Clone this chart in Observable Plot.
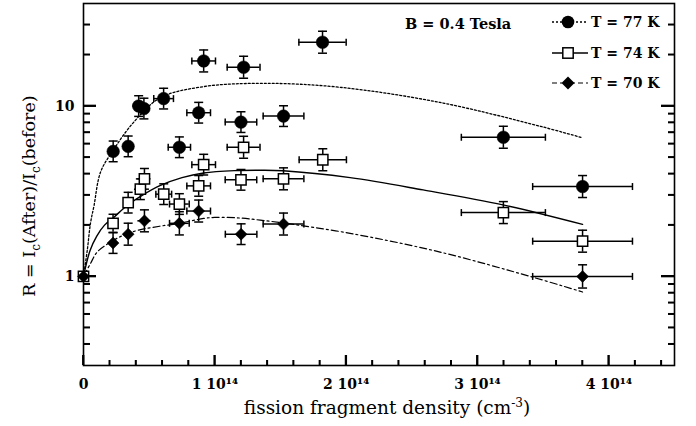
<!DOCTYPE html>
<html>
<head>
<meta charset="utf-8">
<script src="https://cdn.jsdelivr.net/npm/d3@7"></script>
<script src="https://cdn.jsdelivr.net/npm/@observablehq/plot@0.6"></script>
<style>
  body { margin: 0; background: #fff; }
  svg { display: block; }
</style>
</head>
<body>
<div id="chart"></div>
<script>
// ---- Axis ticks (x in units of 10^14 cm^-3) ----
const xTicks = [0, 1, 2, 3, 4];
const xTickLabels = ["0", "1 10¹⁴", "2 10¹⁴", "3 10¹⁴", "4 10¹⁴"];
const xMinorTicks = [0.2, 0.4, 0.6, 0.8, 1.2, 1.4, 1.6, 1.8, 2.2, 2.4, 2.6, 2.8, 3.2, 3.4, 3.6, 3.8, 4.2, 4.4];
const yTicks = [1, 10];
const yTickLabels = ["1", "10"];
const yMinorTicks = [0.4, 0.5, 0.6, 0.7, 0.8, 0.9, 2, 3, 4, 5, 6, 7, 8, 9, 20, 30];

// ---- T = 77 K (filled circles) ----
const t77X    = [0.226, 0.34, 0.42, 0.46, 0.61, 0.73, 0.877, 0.915, 1.199, 1.219, 1.523, 1.82, 3.197, 3.80];
const t77Y    = [5.42, 5.8, 10.0, 9.67, 11.06, 5.73, 9.14, 18.4, 8.05, 16.9, 8.73, 23.7, 6.56, 3.37];
const t77XErr = [0.02, 0.035, 0.045, 0.05, 0.075, 0.085, 0.09, 0.09, 0.12, 0.125, 0.155, 0.18, 0.32, 0.38];
const t77YErr = [0.15, 0.15, 0.15, 0.15, 0.15, 0.15, 0.15, 0.16, 0.15, 0.16, 0.15, 0.16, 0.16, 0.16];

// ---- T = 74 K (open squares) ----
const t74X    = [0, 0.225, 0.34, 0.433, 0.464, 0.611, 0.73, 0.877, 0.915, 1.199, 1.219, 1.523, 1.822, 3.197, 3.80];
const t74Y    = [1, 2.05, 2.71, 3.25, 3.74, 3.04, 2.66, 3.40, 4.53, 3.69, 5.73, 3.74, 4.84, 2.37, 1.61];
const t74XErr = [0, 0.02, 0.035, 0.045, 0.05, 0.06, 0.075, 0.09, 0.09, 0.12, 0.125, 0.155, 0.18, 0.32, 0.38];
const t74YErr = [0, 0.13, 0.15, 0.15, 0.15, 0.15, 0.15, 0.15, 0.15, 0.15, 0.16, 0.16, 0.16, 0.16, 0.16];

// ---- T = 70 K (filled diamonds) ----
const t70X    = [0, 0.225, 0.34, 0.464, 0.73, 0.877, 1.20, 1.523, 3.80];
const t70Y    = [1, 1.57, 1.77, 2.12, 2.05, 2.42, 1.77, 2.03, 1.0];
const t70XErr = [0, 0.02, 0.035, 0.05, 0.075, 0.09, 0.12, 0.155, 0.38];
const t70YErr = [0, 0.15, 0.16, 0.16, 0.17, 0.16, 0.15, 0.16, 0.17];

// ---- Fitted curves ----
const fit77X = [0, 0.03, 0.053, 0.08, 0.13, 0.226, 0.38, 0.586, 0.913, 1.37, 1.95, 2.715, 3.475, 3.80];
const fit77Y = [1, 1.45, 2.05, 2.6, 4.1, 5.5, 8.0, 11.2, 13.0, 13.6, 12.9, 10.5, 7.62, 6.51];
const fit74X = [0, 0.05, 0.1, 0.16, 0.23, 0.33, 0.45, 0.586, 0.75, 0.915, 1.15, 1.35, 1.52, 2.03, 2.586, 3.194, 3.80];
const fit74Y = [1, 1.42, 1.72, 2.0, 2.22, 2.6, 3.0, 3.42, 3.8, 4.05, 4.18, 4.2, 4.17, 3.8, 3.22, 2.63, 2.02];
const fit70X = [0, 0.053, 0.104, 0.2, 0.3, 0.42, 0.58, 0.73, 0.915, 1.0, 1.2, 1.346, 1.52, 2.03, 2.715, 3.42, 3.80];
const fit70Y = [1, 1.19, 1.39, 1.58, 1.74, 1.87, 1.97, 2.05, 2.19, 2.22, 2.2, 2.14, 2.06, 1.79, 1.39, 0.99, 0.81];

// ---- Legend ----
const legendLabels = ["T = 77 K", "T = 74 K", "T = 70 K"];
const annotation = "B = 0.4 Tesla";

// ---- Build tables ----
function points(xs, ys, xe, ye) {
  return xs.map((x, i) => ({
    x, y: ys[i],
    xlo: x - xe[i], xhi: x + xe[i],
    ylo: ys[i] / (1 + ye[i]), yhi: ys[i] * (1 + ye[i]),
    hasErr: xe[i] > 0 || ye[i] > 0
  }));
}
const curve = (xs, ys) => xs.map((x, i) => ({x, y: ys[i]}));

const p77 = points(t77X, t77Y, t77XErr, t77YErr);
const p74 = points(t74X, t74Y, t74XErr, t74YErr);
const p70 = points(t70X, t70Y, t70XErr, t70YErr);
const allPts = [...p77, ...p74, ...p70].filter(d => d.hasErr);

const hCap = {draw(ctx) { ctx.moveTo(-4.5, 0); ctx.lineTo(4.5, 0); }};
const vCap = {draw(ctx) { ctx.moveTo(0, -3.5); ctx.lineTo(0, 3.5); }};

const font = "DejaVu Serif";
const W = 696, H = 426;
const mL = 83, mR = 22, mT = 3, mB = 61;
const innerW = W - mL - mR, innerH = H - mT - mB;

const chart = Plot.plot({
  width: W,
  height: H,
  marginLeft: mL,
  marginRight: mR,
  marginTop: mT,
  marginBottom: mB,
  style: {fontFamily: font, fontSize: "14px", color: "black", background: "white"},
  x: {domain: [0, 4.5], label: null},
  y: {type: "log", domain: [0.3, 40], label: null},
  marks: [
    // inward axis ticks
    Plot.ruleX(xTicks, {stroke: "black", strokeWidth: 1.8, insetTop: innerH - 10}),
    Plot.ruleX(xMinorTicks, {stroke: "black", strokeWidth: 1.5, insetTop: innerH - 5}),
    Plot.ruleY(yTicks, {stroke: "black", strokeWidth: 1.8, insetRight: innerW - 13}),
    Plot.ruleY(yMinorTicks, {stroke: "black", strokeWidth: 1.5, insetRight: innerW - 7}),
    Plot.ruleY(yTicks, {stroke: "black", strokeWidth: 1.8, insetLeft: innerW - 13}),
    Plot.ruleY(yMinorTicks, {stroke: "black", strokeWidth: 1.5, insetLeft: innerW - 6}),
    // fitted curves
    Plot.line(curve(fit77X, fit77Y), {x: "x", y: "y", curve: "catmull-rom", stroke: "black", strokeWidth: 1.3, strokeDasharray: "2,2"}),
    Plot.line(curve(fit74X, fit74Y), {x: "x", y: "y", curve: "catmull-rom", stroke: "black", strokeWidth: 1.4}),
    Plot.line(curve(fit70X, fit70Y), {x: "x", y: "y", curve: "catmull-rom", stroke: "black", strokeWidth: 1.2, strokeDasharray: "7,3,2,3"}),
    // error bars
    Plot.ruleX(allPts, {x: "x", y1: "ylo", y2: "yhi", stroke: "black", strokeWidth: 1.5}),
    Plot.ruleY(allPts, {y: "y", x1: "xlo", x2: "xhi", stroke: "black", strokeWidth: 1.5}),
    Plot.dot(allPts, {x: "x", y: "ylo", symbol: hCap, fill: "none", stroke: "black", strokeWidth: 1.5}),
    Plot.dot(allPts, {x: "x", y: "yhi", symbol: hCap, fill: "none", stroke: "black", strokeWidth: 1.5}),
    Plot.dot(allPts.filter(d => d.xhi - d.xlo > 0.1), {x: "xlo", y: "y", symbol: vCap, fill: "none", stroke: "black", strokeWidth: 1.5}),
    Plot.dot(allPts.filter(d => d.xhi - d.xlo > 0.1), {x: "xhi", y: "y", symbol: vCap, fill: "none", stroke: "black", strokeWidth: 1.5}),
    // markers
    Plot.dot(p77, {x: "x", y: "y", r: 6.3, fill: "black", stroke: "black", strokeWidth: 0.5}),
    Plot.dot(p74, {x: "x", y: "y", symbol: "square", r: 5.8, fill: "white", stroke: "black", strokeWidth: 1.5}),
    Plot.dot(p70, {x: "x", y: "y", symbol: "diamond2", r: 5.4, fill: "black", stroke: "black", strokeWidth: 0.5}),
    // axes: labels
    Plot.axisX(xTicks, {anchor: "bottom", tickSize: 0, tickPadding: 14, fontWeight: "bold", fontSize: 14,
      tickFormat: d => xTickLabels[xTicks.indexOf(d)]}),
    Plot.axisY(yTicks, {anchor: "left", tickSize: 0, tickPadding: 9, fontWeight: "bold", fontSize: 14,
      tickFormat: d => yTickLabels[yTicks.indexOf(d)]}),
    Plot.frame({stroke: "black", strokeWidth: 1.6})
  ]
});

document.getElementById("chart").appendChild(chart);

// ---- Inward ticks also placed with the chart's own scales ----
const svg = d3.select(chart);
const sx = chart.scale("x"), sy = chart.scale("y");
const xL = mL, xR = W - mR, yB = H - mB;
const tickG = svg.append("g").attr("stroke", "black").attr("fill", "none");
function xTick(v, len, sw) {
  const px = sx.apply(v);
  tickG.append("line").attr("x1", px).attr("x2", px).attr("y1", yB).attr("y2", yB - len).attr("stroke-width", sw);
}
function yTick(v, lenL, lenR, sw) {
  const py = sy.apply(v);
  tickG.append("line").attr("x1", xL).attr("x2", xL + lenL).attr("y1", py).attr("y2", py).attr("stroke-width", sw);
  tickG.append("line").attr("x1", xR).attr("x2", xR - lenR).attr("y1", py).attr("y2", py).attr("stroke-width", sw);
}
xTicks.forEach(v => xTick(v, 10, 1.8));
xMinorTicks.forEach(v => xTick(v, 5, 1.5));
yTicks.forEach(v => yTick(v, 13, 13, 1.8));
yMinorTicks.forEach(v => yTick(v, 7, 6, 1.5));

// ---- Titles, annotation and legend ----
// x title
const xt = svg.append("text")
  .attr("x", 387).attr("y", 414)
  .attr("text-anchor", "middle")
  .style("font-family", font).style("font-size", "18.5px").attr("fill", "black");
xt.append("tspan").text("fission fragment density (cm");
xt.append("tspan").attr("dy", -7).style("font-size", "12px").text("-3");
xt.append("tspan").attr("dy", 7).text(")");

// y title
const yt = svg.append("text")
  .attr("transform", "translate(35,196) rotate(-90)")
  .attr("text-anchor", "middle")
  .style("font-family", font).style("font-size", "17.5px").attr("fill", "black");
yt.append("tspan").text("R = I");
yt.append("tspan").attr("dy", 5).style("font-size", "12px").text("c");
yt.append("tspan").attr("dy", -5).text("(After)/I");
yt.append("tspan").attr("dy", 5).style("font-size", "12px").text("c");
yt.append("tspan").attr("dy", -5).text("(before)");

// annotation
svg.append("text")
  .attr("x", 405).attr("y", 29)
  .attr("text-anchor", "start")
  .style("font-family", font).style("font-size", "14.5px").style("font-weight", "bold")
  .attr("fill", "black").text(annotation);

// legend
const legendStyles = [
  {dash: "2,2", sw: 1.3, sym: "circle"},
  {dash: null, sw: 1.4, sym: "square"},
  {dash: "5,3,2,3", sw: 1.2, sym: "diamond"}
];
const legendRows = [22, 53, 83];
legendLabels.forEach((label, i) => {
  const g = svg.append("g").attr("transform", `translate(0,${legendRows[i]})`);
  const st = legendStyles[i];
  g.append("line").attr("x1", 552).attr("x2", 588).attr("y1", 0).attr("y2", 0)
    .attr("stroke", "black").attr("stroke-width", st.sw)
    .attr("stroke-dasharray", st.dash);
  if (st.sym === "circle") {
    g.append("circle").attr("cx", 568).attr("cy", 0).attr("r", 6.3).attr("fill", "black");
  } else if (st.sym === "square") {
    g.append("rect").attr("x", 568 - 5.2).attr("y", -5.2).attr("width", 10.4).attr("height", 10.4)
      .attr("fill", "white").attr("stroke", "black").attr("stroke-width", 1.5);
  } else {
    g.append("path").attr("d", "M568,-6.5L574.5,0L568,6.5L561.5,0Z").attr("fill", "black");
  }
  g.append("text").attr("x", 591).attr("y", 5)
    .attr("text-anchor", "start")
    .style("font-family", font).style("font-size", "14px").style("font-weight", "bold")
    .attr("fill", "black").text(label);
});
</script>
</body>
</html>
